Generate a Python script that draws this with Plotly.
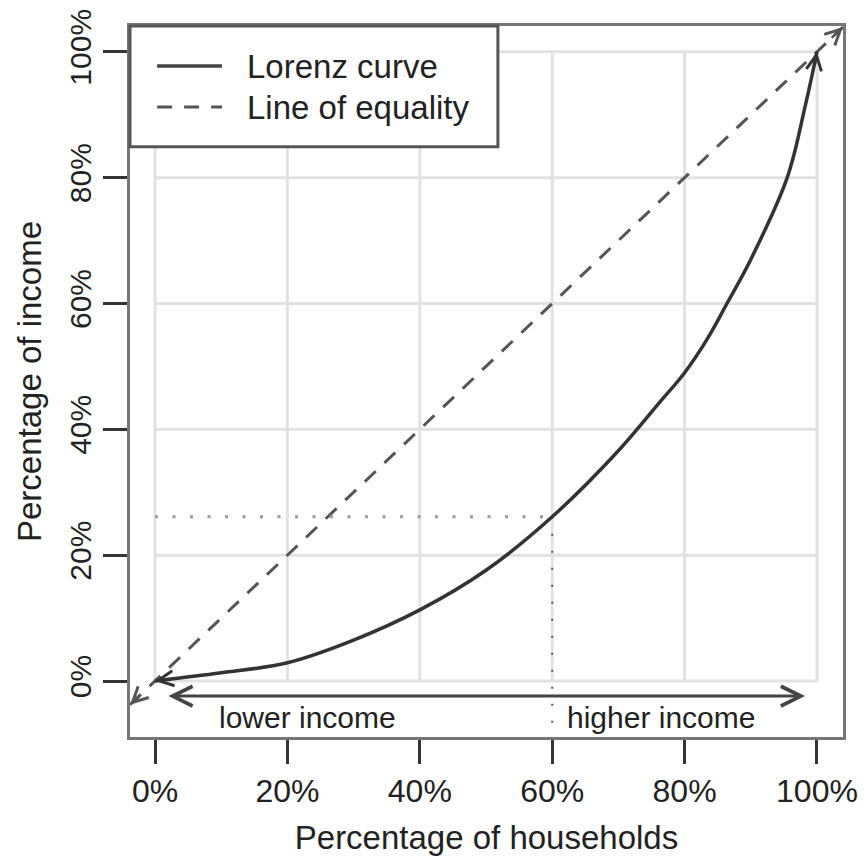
import plotly.graph_objects as go

# ---- data ----
households_pct = [0, 10, 20, 30, 40, 50, 60, 70, 76, 80, 83.5, 86.4, 90, 95.5, 98.2, 100]
income_pct = [0, 1.3, 2.9, 6.5, 11.3, 17.6, 26.1, 36.6, 44.0, 49.0, 54.5, 60, 67, 80, 91.3, 100]
equality_x = [-3.78, 103.93]
equality_y = [-3.78, 103.93]
tick_vals = [0, 20, 40, 60, 80, 100]
tick_text = ["0%", "20%", "40%", "60%", "80%", "100%"]
marker_x = 60
marker_y = 26.1
arrow_y = -2.4
arrow_x = [1.8, 98.2]
labels = ["lower income", "higher income"]
label_x = [23.0, 76.5]
label_y = -5.8
series_names = ["Lorenz curve", "Line of equality"]

XR = [-3.78, 103.93]
YR = [-8.9, 104.1]
FONT = "Liberation Sans, Arial, Helvetica, sans-serif"
TXT = "#222222"

fig = go.Figure()

# equality line
fig.add_trace(go.Scatter(x=equality_x, y=equality_y, mode="lines", name=series_names[1],
                         line=dict(color="#555555", width=3, dash="15px,12px"),
                         showlegend=False, hoverinfo="skip"))
# dotted guides
fig.add_trace(go.Scatter(x=[0, marker_x], y=[marker_y, marker_y], mode="lines",
                         line=dict(color="#999999", width=3, dash="3px,14.5px"),
                         showlegend=False, hoverinfo="skip"))
fig.add_trace(go.Scatter(x=[marker_x, marker_x], y=[marker_y, YR[0]], mode="lines",
                         line=dict(color="#555555", width=2, dash="2px,15px"),
                         showlegend=False, hoverinfo="skip"))
# Lorenz curve
fig.add_trace(go.Scatter(x=households_pct, y=income_pct, mode="lines", name=series_names[0],
                         line=dict(color="#333333", width=3.5, shape="spline", smoothing=1.0),
                         showlegend=False))

shapes = []
# grid confined to [0,100]
for v in tick_vals:
    shapes.append(dict(type="line", xref="x", yref="y", x0=v, x1=v, y0=0, y1=100,
                       line=dict(color="#e2e2e2", width=3), layer="below"))
    shapes.append(dict(type="line", xref="x", yref="y", x0=0, x1=100, y0=v, y1=v,
                       line=dict(color="#e2e2e2", width=3), layer="below"))

# legend box
shapes.append(dict(type="rect", xref="paper", yref="paper", x0=0, x1=0.516, y0=0.830, y1=1.0,
                   fillcolor="white", line=dict(color="#555555", width=3), layer="above"))
shapes.append(dict(type="line", xref="paper", yref="paper", x0=0.038, x1=0.129, y0=0.9437, y1=0.9437,
                   line=dict(color="#444444", width=3.5), layer="above"))
shapes.append(dict(type="line", xref="paper", yref="paper", x0=0.038, x1=0.129, y0=0.886, y1=0.886,
                   line=dict(color="#555555", width=3, dash="15px,12px"), layer="above"))

annotations = []
annotations.append(dict(xref="paper", yref="paper", x=0.161, y=0.9437, text=series_names[0],
                        showarrow=False, xanchor="left", yanchor="middle",
                        font=dict(size=33, color=TXT, family=FONT)))
annotations.append(dict(xref="paper", yref="paper", x=0.161, y=0.886, text=series_names[1],
                        showarrow=False, xanchor="left", yanchor="middle",
                        font=dict(size=33, color=TXT, family=FONT)))

# double-headed arrow
annotations.append(dict(xref="x", yref="y", axref="x", ayref="y",
                        x=arrow_x[1], y=arrow_y, ax=arrow_x[0], ay=arrow_y, text="",
                        showarrow=True, arrowhead=5, startarrowhead=5, arrowside="end+start",
                        arrowwidth=3, arrowsize=1.3, startarrowsize=1.3, arrowcolor="#444444"))
for t, lx in zip(labels, label_x):
    annotations.append(dict(xref="x", yref="y", x=lx, y=label_y, text=t, showarrow=False,
                            xanchor="center", yanchor="middle",
                            font=dict(size=30, color=TXT, family=FONT)))

# small arrow heads at line ends
ends = [
    (households_pct[0], income_pct[0], 2.5, 0.4, "#333333"),
    (households_pct[-1], income_pct[-1], 99.6, 97.5, "#333333"),
    (equality_x[0], equality_y[0], -2.0, -2.0, "#555555"),
    (equality_x[1], equality_y[1], 102.0, 102.0, "#555555"),
]
for hx, hy, tx, ty, c in ends:
    annotations.append(dict(xref="x", yref="y", axref="x", ayref="y", x=hx, y=hy, ax=tx, ay=ty,
                            text="", showarrow=True, arrowhead=5, arrowwidth=2.5, arrowsize=1.2,
                            arrowcolor=c))

fig.update_layout(
    width=858, height=853,
    margin=dict(l=122, r=23, t=18, b=124, autoexpand=False),
    paper_bgcolor="white", plot_bgcolor="white",
    font=dict(family=FONT, color=TXT),
    shapes=shapes, annotations=annotations, showlegend=False,
)
axis_common = dict(tickvals=tick_vals, ticktext=tick_text, ticks="outside", ticklen=24, tickwidth=3,
                   tickcolor="#333333", showgrid=False, zeroline=False, showline=True, mirror=True,
                   linecolor="#777777", linewidth=3, automargin=False, ticklabeloverflow="allow")
fig.update_xaxes(range=XR, title=dict(text="Percentage of households",
                                      font=dict(size=33, color=TXT, family=FONT), standoff=18),
                 tickfont=dict(size=32, color=TXT, family=FONT), **axis_common)
fig.update_yaxes(range=YR, tickangle=-90, title=dict(text="Percentage of income",
                                                     font=dict(size=33, color=TXT, family=FONT), standoff=13),
                 tickfont=dict(size=30, color=TXT, family=FONT), **axis_common)

fig.write_html("out.html")
